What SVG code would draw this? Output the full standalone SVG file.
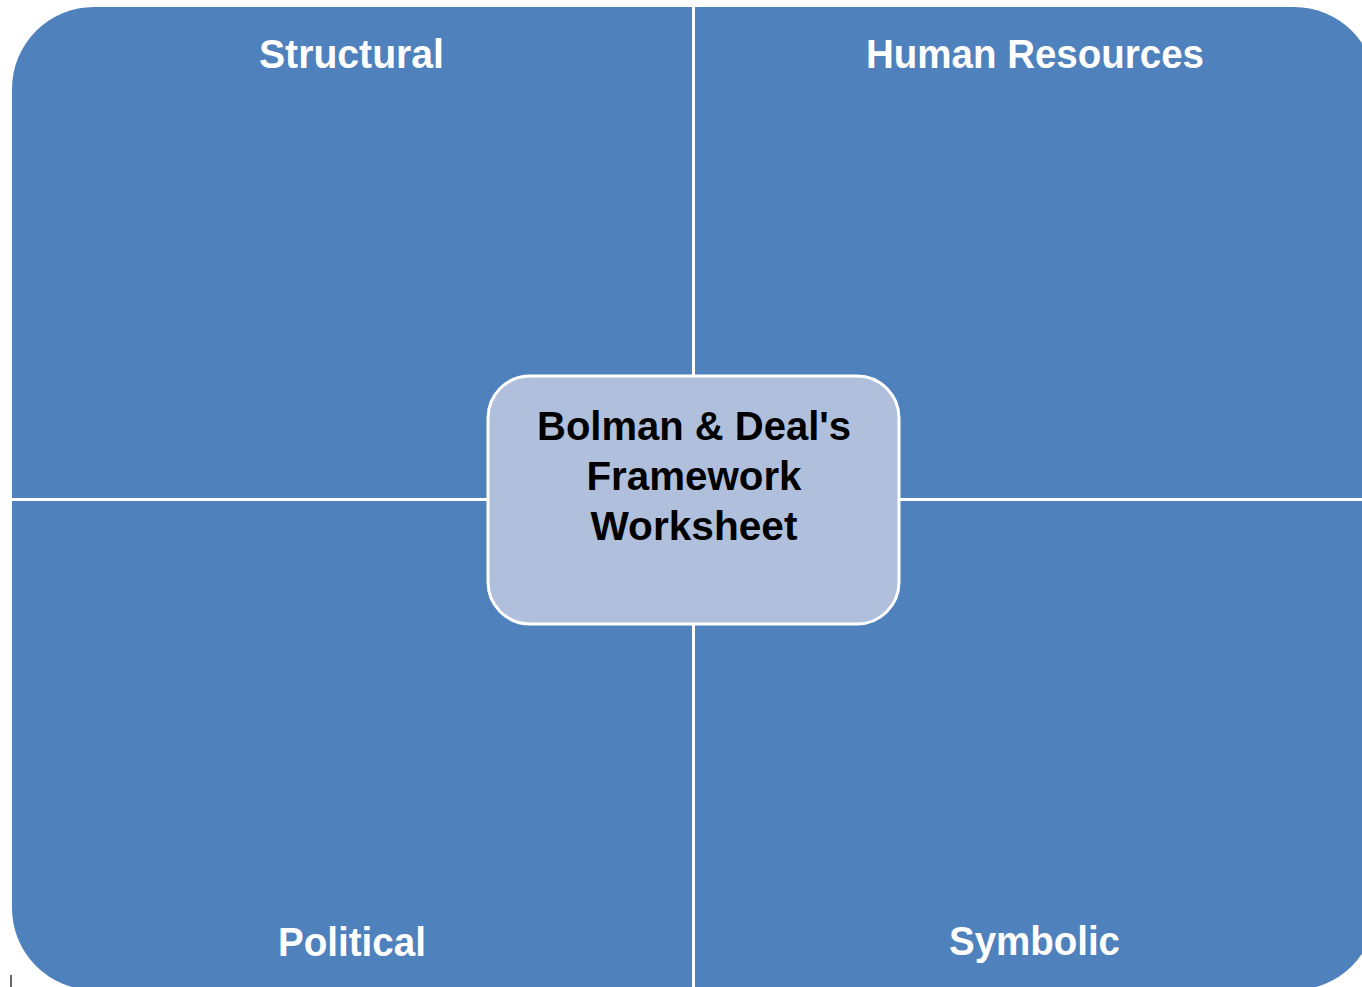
<svg xmlns="http://www.w3.org/2000/svg" width="1362" height="987" viewBox="0 0 1362 987">
<style>
.q{fill:#4F81BD;}
.lbl{font-family:"Liberation Sans",Arial,sans-serif;font-weight:bold;font-size:40px;fill:#FFFFFF;}
.ctr{fill:#B0C0DC;stroke:#FFFFFF;stroke-width:3;}
.ctxt{font-family:"Liberation Sans",Arial,sans-serif;font-weight:bold;font-size:40px;fill:#000000;}
</style>
<rect x="0" y="0" width="1362" height="987" fill="#FFFFFF"/>
<g id="structural">
<path class="q" d="M12,89 A82,82 0 0 1 94,7 L692,7 L692,498 L12,498 Z"/>
<text class="lbl" x="351.5" y="68" text-anchor="middle" textLength="185" lengthAdjust="spacingAndGlyphs">Structural</text>
</g>
<g id="human-resources">
<path class="q" d="M695,7 L1294,7 A82,82 0 0 1 1376,89 L1376,498 L695,498 Z"/>
<text class="lbl" x="1035" y="68" text-anchor="middle" textLength="338" lengthAdjust="spacingAndGlyphs">Human Resources</text>
</g>
<g id="political">
<path class="q" d="M12,501 L692,501 L692,990 L94,990 A82,82 0 0 1 12,908 Z"/>
<text class="lbl" x="352" y="956" text-anchor="middle" textLength="148" lengthAdjust="spacingAndGlyphs">Political</text>
</g>
<g id="symbolic">
<path class="q" d="M695,501 L1376,501 L1376,908 A82,82 0 0 1 1294,990 L695,990 Z"/>
<text class="lbl" x="1034.5" y="955" text-anchor="middle" textLength="171" lengthAdjust="spacingAndGlyphs">Symbolic</text>
</g>
<g id="connectors"></g>
<g id="center">
<rect class="ctr" x="488" y="376" width="411" height="248" rx="42" ry="42"/>
<text class="ctxt" x="694" y="440" text-anchor="middle" textLength="314" lengthAdjust="spacingAndGlyphs">Bolman &amp; Deal's</text>
<text class="ctxt" x="694" y="490" text-anchor="middle" textLength="215" lengthAdjust="spacingAndGlyphs">Framework</text>
<text class="ctxt" x="694" y="540" text-anchor="middle" textLength="207" lengthAdjust="spacingAndGlyphs">Worksheet</text>
</g>
<line x1="11" y1="975" x2="11" y2="987" stroke="#333333" stroke-width="1.5"/>
</svg>
